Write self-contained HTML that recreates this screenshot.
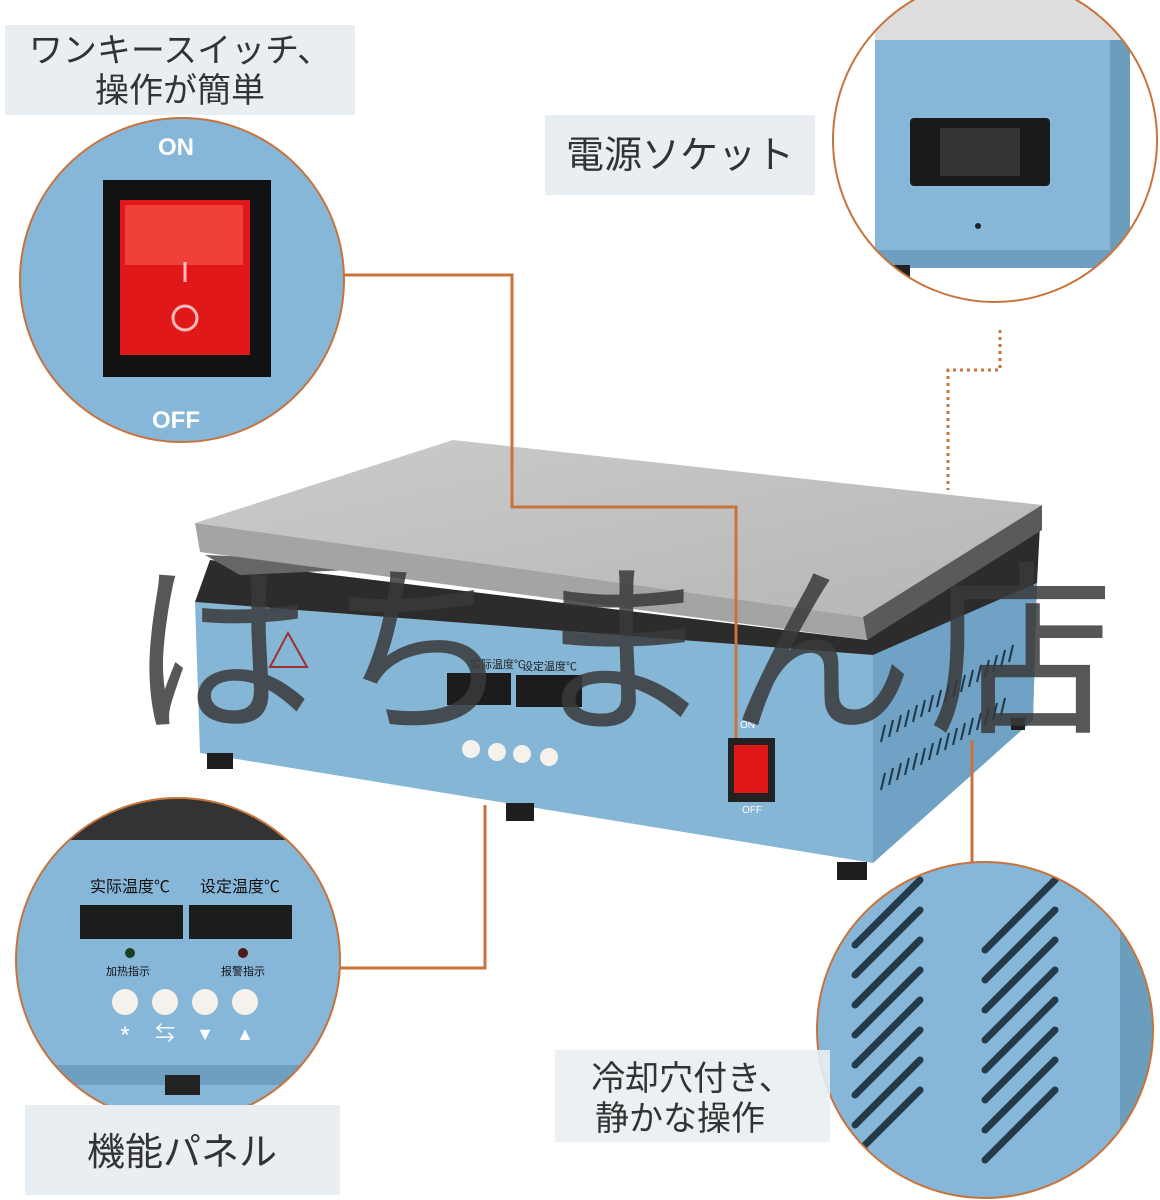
<!DOCTYPE html>
<html><head><meta charset="utf-8"><style>
html,body{margin:0;padding:0;background:#fff;width:1160px;height:1200px;overflow:hidden}
svg{display:block}
text{font-family:"Liberation Sans","Noto Sans CJK JP",sans-serif}
</style></head><body>
<svg width="1160" height="1200" viewBox="0 0 1160 1200" xmlns="http://www.w3.org/2000/svg">
<defs>
<clipPath id="c1"><circle cx="182" cy="280" r="162"/></clipPath>
<clipPath id="c2"><circle cx="995" cy="140" r="162"/></clipPath>
<clipPath id="c3"><circle cx="178" cy="960" r="162"/></clipPath>
<clipPath id="c4"><circle cx="985" cy="1030" r="168"/></clipPath>
<linearGradient id="plate" x1="0" y1="0" x2="1" y2="1"><stop offset="0" stop-color="#cbcbcb"/><stop offset="1" stop-color="#b6b6b6"/></linearGradient>
</defs>
<!-- device body -->
<polygon points="195,602 873,655 1037,583 1033,720 873,863 200,753" fill="#86b6d6"/>
<polygon points="873,655 1037,583 1033,720 873,863" fill="#6fa2c4"/>
<polygon points="210,560 867,640 1040,525 1037,583 873,655 195,602" fill="#2c2c2c"/>
<polygon points="205,555 460,565 240,575" fill="#666"/>
<rect x="207" y="753" width="26" height="16" fill="#1e1e1e"/>
<rect x="506" y="803" width="28" height="18" fill="#1e1e1e"/>
<rect x="837" y="862" width="30" height="18" fill="#1e1e1e"/>
<rect x="1011" y="718" width="14" height="12" fill="#1e1e1e"/>
<!-- plate -->
<polygon points="453,440 1042,505 863,617 195,523" fill="url(#plate)"/>
<polygon points="195,523 863,617 867,640 200,552" fill="#a4a4a4"/>
<polygon points="863,617 1042,505 1042,530 867,640" fill="#5a5a5a"/>
<!-- panel -->
<polygon points="288,633 307,667 270,667" fill="none" stroke="#a03030" stroke-width="2"/>
<text x="470" y="668" font-size="11" fill="#222">实际温度℃</text>
<text x="522" y="670" font-size="11" fill="#222">设定温度℃</text>
<rect x="447" y="673" width="64" height="32" fill="#1c1c1c"/>
<rect x="516" y="675" width="66" height="32" fill="#1c1c1c"/>
<g fill="#f4f2ea"><circle cx="471" cy="749" r="9"/><circle cx="497" cy="752" r="9"/><circle cx="522" cy="754" r="9"/><circle cx="549" cy="757" r="9"/></g>
<text x="740" y="728" font-size="10" fill="#fff">ON</text>
<text x="742" y="813" font-size="10" fill="#fff">OFF</text>
<rect x="728" y="738" width="47" height="64" fill="#222"/>
<rect x="734" y="745" width="34" height="48" fill="#e01818"/>
<g stroke="#1f3647" stroke-width="2">
<line x1="885" y1="725" x2="881" y2="742"/><line x1="893" y1="720" x2="889" y2="737"/><line x1="901" y1="715" x2="897" y2="732"/><line x1="909" y1="710" x2="905" y2="727"/><line x1="917" y1="705" x2="913" y2="722"/><line x1="925" y1="700" x2="921" y2="717"/><line x1="933" y1="695" x2="929" y2="712"/><line x1="941" y1="690" x2="937" y2="707"/><line x1="949" y1="685" x2="945" y2="702"/><line x1="957" y1="680" x2="953" y2="697"/><line x1="965" y1="675" x2="961" y2="692"/><line x1="973" y1="670" x2="969" y2="687"/><line x1="981" y1="665" x2="977" y2="682"/><line x1="989" y1="660" x2="985" y2="677"/><line x1="997" y1="655" x2="993" y2="672"/><line x1="1005" y1="650" x2="1001" y2="667"/><line x1="1013" y1="645" x2="1009" y2="662"/>
<line x1="885" y1="773" x2="881" y2="790"/><line x1="893" y1="768" x2="889" y2="785"/><line x1="901" y1="763" x2="897" y2="780"/><line x1="909" y1="758" x2="905" y2="775"/><line x1="917" y1="753" x2="913" y2="770"/><line x1="925" y1="748" x2="921" y2="765"/><line x1="933" y1="743" x2="929" y2="760"/><line x1="941" y1="738" x2="937" y2="755"/><line x1="949" y1="733" x2="945" y2="750"/><line x1="957" y1="728" x2="953" y2="745"/><line x1="965" y1="723" x2="961" y2="740"/><line x1="973" y1="718" x2="969" y2="735"/><line x1="981" y1="713" x2="977" y2="730"/><line x1="989" y1="708" x2="985" y2="725"/><line x1="997" y1="703" x2="993" y2="720"/><line x1="1005" y1="698" x2="1001" y2="715"/>
</g>
<!-- connectors -->
<g stroke="#c8733c" stroke-width="3" fill="none">
<polyline points="344,275 512,275 512,507 736,507 736,738"/>
<polyline points="340,968 485,968 485,805"/>
<line x1="972" y1="740" x2="972" y2="868"/>
<polyline points="1000,330 1000,370 948,370 948,490" stroke-dasharray="3,4"/>
</g>
<!-- watermark -->
<text x="128" y="718" font-size="186" fill="#3a3a3a" fill-opacity="0.85" letter-spacing="14">はちまん店</text>
<!-- circle 1 -->
<g clip-path="url(#c1)">
<rect x="0" y="100" width="360" height="360" fill="#86b7d8"/>
<rect x="103" y="180" width="168" height="197" fill="#111"/>
<rect x="120" y="200" width="130" height="155" fill="#e0181a"/>
<rect x="125" y="205" width="118" height="60" fill="#f0403a"/>
<circle cx="185" cy="318" r="12" fill="none" stroke="#fff" stroke-opacity=".7" stroke-width="3"/>
<line x1="185" y1="262" x2="185" y2="282" stroke="#fff" stroke-opacity=".7" stroke-width="3"/>
<text x="176" y="155" font-size="24" font-weight="bold" fill="#fff" text-anchor="middle">ON</text>
<text x="176" y="428" font-size="24" font-weight="bold" fill="#fff" text-anchor="middle">OFF</text>
</g>
<circle cx="182" cy="280" r="162" fill="none" stroke="#c8733c" stroke-width="2"/>
<!-- circle 2 -->
<g clip-path="url(#c2)">
<rect x="820" y="0" width="340" height="310" fill="#fff"/>
<rect x="875" y="40" width="250" height="220" fill="#86b7d8"/>
<rect x="1110" y="40" width="20" height="230" fill="#6b9dbd"/>
<rect x="875" y="250" width="250" height="18" fill="#6e9fc0"/>
<rect x="875" y="265" width="35" height="15" fill="#222"/>
<rect x="910" y="118" width="140" height="68" rx="4" fill="#1a1a1a"/>
<rect x="940" y="128" width="80" height="48" fill="#333"/>
<circle cx="978" cy="226" r="3" fill="#222"/>
<rect x="875" y="0" width="250" height="40" fill="#ddd"/>
</g>
<circle cx="995" cy="140" r="162" fill="none" stroke="#c8733c" stroke-width="2"/>
<!-- circle 3 -->
<g clip-path="url(#c3)">
<rect x="0" y="790" width="360" height="340" fill="#86b7d8"/>
<rect x="0" y="790" width="360" height="50" fill="#333"/>
<text x="130" y="892" font-size="16" fill="#111" text-anchor="middle">实际温度℃</text>
<text x="240" y="892" font-size="16" fill="#111" text-anchor="middle">设定温度℃</text>
<rect x="80" y="905" width="103" height="34" fill="#1c1c1c"/>
<rect x="189" y="905" width="103" height="34" fill="#1c1c1c"/>
<circle cx="130" cy="953" r="5" fill="#1a4020"/><circle cx="243" cy="953" r="5" fill="#501a1a"/>
<text x="128" y="975" font-size="11" fill="#111" text-anchor="middle">加热指示</text>
<text x="243" y="975" font-size="11" fill="#111" text-anchor="middle">报警指示</text>
<g fill="#f4f2ea"><circle cx="125" cy="1002" r="13"/><circle cx="165" cy="1002" r="13"/><circle cx="205" cy="1002" r="13"/><circle cx="245" cy="1002" r="13"/></g>
<text x="125" y="1043" font-size="24" fill="#fff" text-anchor="middle">*</text>
<text x="165" y="1040" font-size="20" fill="#fff" text-anchor="middle">⇆</text>
<text x="205" y="1040" font-size="18" fill="#fff" text-anchor="middle">▼</text>
<text x="245" y="1040" font-size="18" fill="#fff" text-anchor="middle">▲</text>
<rect x="0" y="1065" width="360" height="20" fill="#6e9fc0"/>
<rect x="165" y="1075" width="35" height="20" fill="#222"/>
</g>
<circle cx="178" cy="960" r="162" fill="none" stroke="#c8733c" stroke-width="2"/>
<!-- circle 4 -->
<g clip-path="url(#c4)">
<rect x="810" y="860" width="350" height="340" fill="#86b7d8"/>
<g stroke="#243a48" stroke-width="7" stroke-linecap="round">
<line x1="855" y1="945" x2="920" y2="880"/><line x1="855" y1="975" x2="920" y2="910"/><line x1="855" y1="1005" x2="920" y2="940"/><line x1="855" y1="1035" x2="920" y2="970"/><line x1="855" y1="1065" x2="920" y2="1000"/><line x1="855" y1="1095" x2="920" y2="1030"/><line x1="855" y1="1125" x2="920" y2="1060"/><line x1="855" y1="1155" x2="920" y2="1090"/>
<line x1="985" y1="950" x2="1055" y2="880"/><line x1="985" y1="980" x2="1055" y2="910"/><line x1="985" y1="1010" x2="1055" y2="940"/><line x1="985" y1="1040" x2="1055" y2="970"/><line x1="985" y1="1070" x2="1055" y2="1000"/><line x1="985" y1="1100" x2="1055" y2="1030"/><line x1="985" y1="1130" x2="1055" y2="1060"/><line x1="985" y1="1160" x2="1055" y2="1090"/>
</g>
<rect x="1120" y="860" width="40" height="340" fill="#6b9dbd"/>
</g>
<circle cx="985" cy="1030" r="168" fill="none" stroke="#c8733c" stroke-width="2"/>
<!-- labels -->
<rect x="5" y="25" width="350" height="90" fill="#e9eef2"/>
<text x="180" y="62" font-size="34" fill="#333" text-anchor="middle">ワンキースイッチ、</text>
<text x="180" y="102" font-size="34" fill="#333" text-anchor="middle">操作が簡単</text>
<rect x="545" y="115" width="270" height="80" fill="#e9eef2"/>
<text x="680" y="168" font-size="38" fill="#333" text-anchor="middle">電源ソケット</text>
<rect x="555" y="1050" width="275" height="92" fill="#e9eef2" fill-opacity=".9"/>
<text x="692" y="1090" font-size="34" fill="#333" text-anchor="middle">冷却穴付き、</text>
<text x="680" y="1130" font-size="34" fill="#333" text-anchor="middle">静かな操作</text>
<rect x="25" y="1105" width="315" height="90" fill="#e9eef2"/>
<text x="182" y="1165" font-size="38" fill="#333" text-anchor="middle">機能パネル</text>
</svg>
</body></html>
